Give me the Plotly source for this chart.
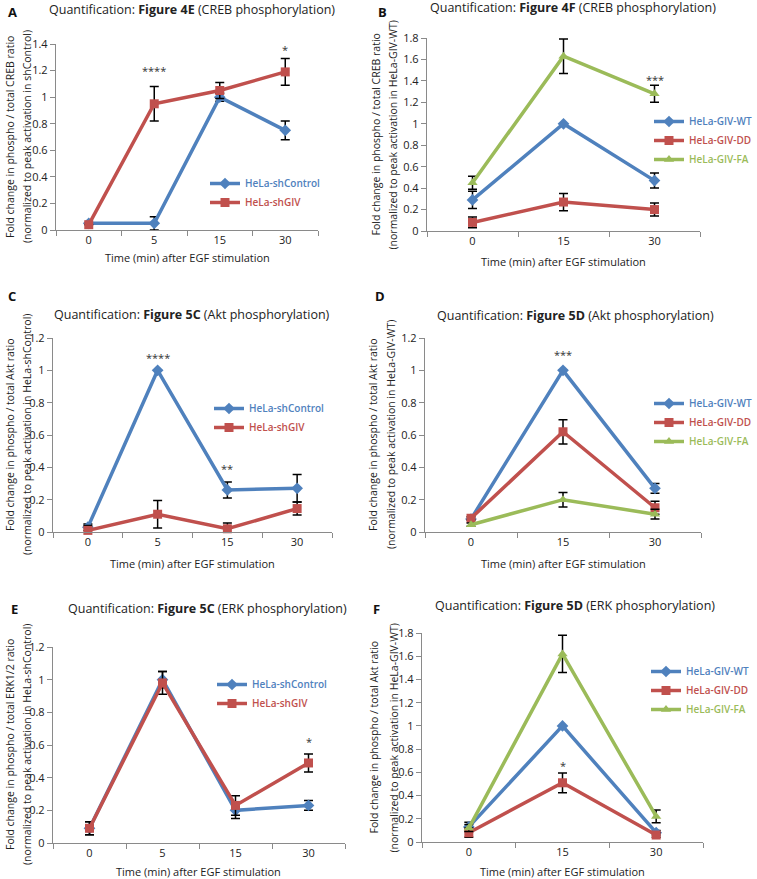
import plotly.graph_objects as go

W, H = 757, 879
FONT = "Open Sans"
BLUE, RED, GREEN = "#4F81BD", "#C0504D", "#9BBB59"
AXC = "#8a8a8a"

def px(x):
    return x / W

def py(y):
    return 1 - y / H

# ---------------- data ----------------
# Panel A: Figure 4E CREB
a_time = ["0", "5", "15", "30"]
a_shcontrol = [0.05, 0.05, 1.00, 0.75]
a_shcontrol_err = [None, 0.05, 0.03, 0.07]
a_shgiv = [0.04, 0.95, 1.05, 1.19]
a_shgiv_err = [None, 0.13, 0.06, 0.10]
a_stars = ["****", "*"]
a_star_x = ["5", "30"]
a_star_y = [1.20, 1.36]

# Panel B: Figure 4F CREB
b_time = ["0", "15", "30"]
b_wt = [0.29, 1.00, 0.47]
b_wt_err = [0.08, None, 0.07]
b_dd = [0.08, 0.27, 0.20]
b_dd_err = [0.05, 0.08, 0.06]
b_fa = [0.45, 1.63, 1.28]
b_fa_err = [0.06, 0.16, 0.08]
b_stars = ["***", "***"]
b_star_x = ["15", "30"]
b_star_y = [1.86, 1.41]

# Panel C: Figure 5C Akt
c_time = ["0", "5", "15", "30"]
c_shcontrol = [0.03, 1.00, 0.26, 0.27]
c_shcontrol_err = [0.02, None, 0.05, 0.085]
c_shgiv = [0.01, 0.11, 0.02, 0.145]
c_shgiv_err = [0.03, 0.085, 0.035, 0.04]
c_stars = ["****", "**"]
c_star_x = ["5", "15"]
c_star_y = [1.08, 0.39]

# Panel D: Figure 5D Akt
d_time = ["0", "15", "30"]
d_wt = [0.08, 1.00, 0.27]
d_wt_err = [None, None, 0.03]
d_dd = [0.085, 0.62, 0.15]
d_dd_err = [0.01, 0.075, 0.04]
d_fa = [0.045, 0.20, 0.11]
d_fa_err = [0.01, 0.045, 0.03]
d_stars = ["***"]
d_star_x = ["15"]
d_star_y = [1.10]

# Panel E: Figure 5C ERK
e_time = ["0", "5", "15", "30"]
e_shcontrol = [0.09, 1.00, 0.20, 0.23]
e_shcontrol_err = [0.04, 0.05, 0.05, 0.03]
e_shgiv = [0.09, 0.98, 0.23, 0.49]
e_shgiv_err = [0.04, 0.07, 0.06, 0.055]
e_stars = ["*"]
e_star_x = ["30"]
e_star_y = [0.62]

# Panel F: Figure 5D ERK
f_time = ["0", "15", "30"]
f_wt = [0.13, 1.00, 0.08]
f_wt_err = [0.04, None, 0.02]
f_dd = [0.08, 0.51, 0.06]
f_dd_err = [0.04, 0.085, 0.02]
f_fa = [0.12, 1.62, 0.22]
f_fa_err = [0.03, 0.16, 0.055]
f_stars = ["**", "*"]
f_star_x = ["15", "15"]
f_star_y = [1.88, 0.66]

# ---------------- layout geometry (pixels) ----------------
# leg = (x, y, xanchor)
panels = [
    dict(letter="A", fig="Figure 4E", what="CREB phosphorylation",
         time=a_time, ymax=1.4,
         series=[("HeLa-shControl", a_shcontrol, a_shcontrol_err, BLUE, "diamond"),
                 ("HeLa-shGIV", a_shgiv, a_shgiv_err, RED, "square")],
         stars=(a_stars, a_star_x, a_star_y),
         ytitle=("Fold change in phospho / total CREB ratio",
                 "(normalized to peak activation in shControl)"),
         dom=(56, 318, 44, 230), title_xy=(192, 9), letter_xy=(12, 12),
         ytx=(10, 27), xty=258, leg=(205, 169, "left")),
    dict(letter="B", fig="Figure 4F", what="CREB phosphorylation",
         time=b_time, ymax=1.8,
         series=[("HeLa-GIV-WT", b_wt, b_wt_err, BLUE, "diamond"),
                 ("HeLa-GIV-DD", b_dd, b_dd_err, RED, "square"),
                 ("HeLa-GIV-FA", b_fa, b_fa_err, GREEN, "triangle-up")],
         stars=(b_stars, b_star_x, b_star_y),
         ytitle=("Fold change in phospho / total CREB ratio",
                 "(normalized to peak activation in HeLa-GIV-WT)"),
         dom=(427, 700, 38, 231), title_xy=(573, 8), letter_xy=(382, 12),
         ytx=(376, 393), xty=262, leg=(757, 107, "right")),
    dict(letter="C", fig="Figure 5C", what="Akt phosphorylation",
         time=c_time, ymax=1.2,
         series=[("HeLa-shControl", c_shcontrol, c_shcontrol_err, BLUE, "diamond"),
                 ("HeLa-shGIV", c_shgiv, c_shgiv_err, RED, "square")],
         stars=(c_stars, c_star_x, c_star_y),
         ytitle=("Fold change in phospho / total Akt ratio",
                 "(normalized to peak activation in HeLa-shControl)"),
         dom=(53, 332, 338, 532), title_xy=(192, 314), letter_xy=(12, 296),
         ytx=(10, 27), xty=563, leg=(209, 394, "left")),
    dict(letter="D", fig="Figure 5D", what="Akt phosphorylation",
         time=d_time, ymax=1.2,
         series=[("HeLa-GIV-WT", d_wt, d_wt_err, BLUE, "diamond"),
                 ("HeLa-GIV-DD", d_dd, d_dd_err, RED, "square"),
                 ("HeLa-GIV-FA", d_fa, d_fa_err, GREEN, "triangle-up")],
         stars=(d_stars, d_star_x, d_star_y),
         ytitle=("Fold change in phospho / total Akt ratio",
                 "(normalized to peak activation in HeLa-GIV-WT)"),
         dom=(425, 701, 338, 532), title_xy=(575, 315), letter_xy=(380, 296),
         ytx=(373, 391), xty=563, leg=(757, 389, "right")),
    dict(letter="E", fig="Figure 5C", what="ERK phosphorylation",
         time=e_time, ymax=1.2,
         series=[("HeLa-shControl", e_shcontrol, e_shcontrol_err, BLUE, "diamond"),
                 ("HeLa-shGIV", e_shgiv, e_shgiv_err, RED, "square")],
         stars=(e_stars, e_star_x, e_star_y),
         ytitle=("Fold change in phospho / total ERK1/2 ratio",
                 "(normalized to peak activation in HeLa-shControl)"),
         dom=(53, 345, 647, 843), title_xy=(207, 608), letter_xy=(14, 609),
         ytx=(10, 27), xty=871, leg=(212, 670, "left")),
    dict(letter="F", fig="Figure 5D", what="ERK phosphorylation",
         time=f_time, ymax=1.8,
         series=[("HeLa-GIV-WT", f_wt, f_wt_err, BLUE, "diamond"),
                 ("HeLa-GIV-DD", f_dd, f_dd_err, RED, "square"),
                 ("HeLa-GIV-FA", f_fa, f_fa_err, GREEN, "triangle-up")],
         stars=(f_stars, f_star_x, f_star_y),
         ytitle=("Fold change in phospho / total Akt ratio",
                 "(normalized to peak activation in HeLa-GIV-WT)"),
         dom=(422, 703, 633, 842), title_xy=(575, 605), letter_xy=(376, 609),
         ytx=(373, 393), xty=871, leg=(754, 657, "right")),
]

fig = go.Figure()
annotations = []
layout = dict(
    width=W, height=H, margin=dict(l=0, r=0, t=0, b=0, autoexpand=False),
    paper_bgcolor="white", plot_bgcolor="white",
    font=dict(family=FONT, size=10, color="#333"),
)

for i, p in enumerate(panels):
    k = "" if i == 0 else str(i + 1)
    xa, ya = "x" + k, "y" + k
    lg = "legend" + k
    x0, x1, ytop, ybot = p["dom"]
    n = len(p["time"])
    layout["xaxis" + k] = dict(
        domain=[px(x0), px(x1)], anchor=ya, type="category",
        categoryorder="array", categoryarray=p["time"],
        range=[-0.5, n - 0.5], showline=True, linecolor=AXC, linewidth=1.3,
        ticks="outside", tickson="boundaries", ticklen=5, tickcolor=AXC,
        tickwidth=1.2, showgrid=False, zeroline=False,
        tickfont=dict(family=FONT, size=11, color="#222"),
    )
    layout["yaxis" + k] = dict(
        domain=[py(ybot), py(ytop)], anchor=xa, range=[0, p["ymax"]],
        dtick=0.2, tick0=0, showline=True, linecolor=AXC, linewidth=1.3,
        ticks="outside", ticklen=5, tickcolor=AXC, tickwidth=1.2,
        showgrid=False, zeroline=False,
        tickfont=dict(family=FONT, size=11, color="#222"),
    )
    lx, ly, lxa = p["leg"]
    layout[lg] = dict(
        x=px(lx), y=py(ly), xanchor=lxa, yanchor="top",
        bgcolor="rgba(0,0,0,0)", font=dict(family=FONT, size=10, weight=600),
        tracegroupgap=0, itemwidth=30,
    )
    for name, vals, errs, col, sym in p["series"]:
        fig.add_trace(go.Scatter(
            x=p["time"], y=vals, mode="lines+markers",
            name=f"<span style='color:{col}'>{name}</span>",
            line=dict(color=col, width=3.5),
            marker=dict(symbol=sym, size=9, color=col),
            error_y=dict(type="data", array=errs, visible=True, color="black",
                         thickness=1.5, width=4.5),
            xaxis=xa, yaxis=ya, legend=lg, cliponaxis=False,
        ))
    s_txt, s_x, s_y = p["stars"]
    for t, sx, sy in zip(s_txt, s_x, s_y):
        annotations.append(dict(text=t, x=p["time"].index(sx), y=sy, xref=xa, yref=ya,
                                showarrow=False, xanchor="center", yanchor="middle",
                                font=dict(family=FONT, size=11, color="#333")))
    # title
    tx, ty = p["title_xy"]
    annotations.append(dict(
        text=f"Quantification: <b>{p['fig']}</b> ({p['what']})",
        x=px(tx), y=py(ty), xref="paper", yref="paper", showarrow=False,
        xanchor="center", yanchor="middle",
        font=dict(family=FONT, size=12.5, color="#222")))
    # panel letter
    lx2, ly2 = p["letter_xy"]
    annotations.append(dict(
        text=f"<b>{p['letter']}</b>", x=px(lx2), y=py(ly2), xref="paper", yref="paper",
        showarrow=False, xanchor="center", yanchor="middle",
        font=dict(family=FONT, size=13, color="#111")))
    # x title
    annotations.append(dict(
        text="Time (min) after EGF stimulation", x=px((x0 + x1) / 2), y=py(p["xty"]),
        xref="paper", yref="paper", showarrow=False, xanchor="center", yanchor="middle",
        font=dict(family=FONT, size=11, color="#222")))
    # y titles
    yc = (ytop + ybot) / 2
    for line, xx in zip(p["ytitle"], p["ytx"]):
        annotations.append(dict(
            text=line, x=px(xx), y=py(yc), xref="paper", yref="paper",
            showarrow=False, textangle=-90, xanchor="center", yanchor="middle",
            font=dict(family=FONT, size=10.5, color="#222")))

layout["annotations"] = annotations
fig.update_layout(**layout)
fig.write_html(
    "out.html",
    config={"displayModeBar": False},
    post_script="document.body.style.margin='0';document.body.style.overflow='hidden';",
)
